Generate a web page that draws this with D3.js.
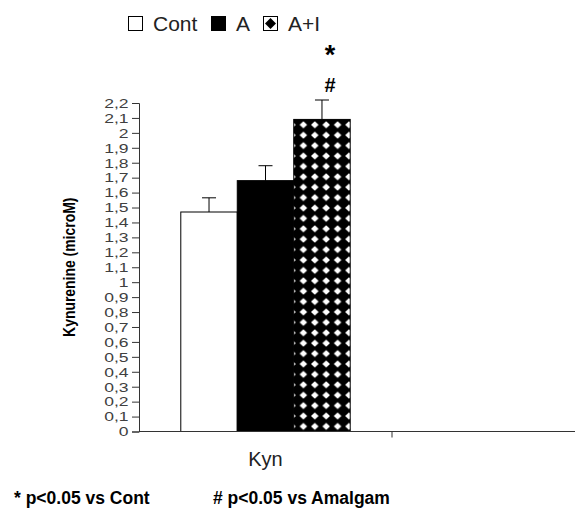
<!DOCTYPE html>
<html>
<head>
<meta charset="utf-8">
<script src="https://cdn.jsdelivr.net/npm/d3@7"></script>
<style>
  body { margin: 0; background: #fff; }
  svg { display: block; font-family: "Liberation Sans", Arial, sans-serif; }
</style>
</head>
<body>
<div id="chart"></div>
<script>
// data
var categories = ["Kyn", " "];
var groups = ["Cont", "A", "A+I"];
var values = [1.47, 1.68, 2.09];
var errors = [0.095, 0.10, 0.13];
var yTicks = d3.range(0, 23).map(function(i) { return i / 10; });
var marks = ["*", "#"];
var notes = ["* p<0.05 vs Cont", "# p<0.05 vs Amalgam"];

var width = 575, height = 515;
var margin = {top: 103, left: 139, bottom: 83};

var svg = d3.select("#chart").append("svg")
    .attr("width", width)
    .attr("height", height);

// checker of diamonds for the A+I bar
var defs = svg.append("defs");
var pat = defs.append("pattern")
    .attr("id", "diam")
    .attr("patternUnits", "userSpaceOnUse")
    .attr("width", 11.4)
    .attr("height", 10.4)
    .attr("x", 292)
    .attr("y", 0);
pat.append("rect").attr("width", 11.4).attr("height", 10.4).attr("fill", "#fff");
pat.append("path")
    .attr("d", "M5.7,-1.8 L13.2,5.2 L5.7,12.2 L-1.8,5.2 Z")
    .attr("fill", "#000");

var x = d3.scaleBand()
    .domain(categories)
    .range([margin.left, margin.left + 2 * 253]);

var xInner = d3.scaleBand()
    .domain(groups)
    .range([0, x.bandwidth()])
    .paddingOuter(0.74);

var y = d3.scaleLinear()
    .domain([0, 2.2])
    .range([height - margin.bottom - 0.5, margin.top]);

var fills = {"Cont": "#fff", "A": "#000", "A+I": "url(#diam)"};

// bars
var g = svg.append("g");
g.selectAll("rect.bar")
  .data(values)
  .enter().append("rect")
    .attr("class", "bar")
    .attr("x", function(d, i) { return x("Kyn") + xInner(groups[i]); })
    .attr("y", function(d) { return y(d); })
    .attr("width", xInner.bandwidth())
    .attr("height", function(d) { return y(0) - y(d); })
    .attr("fill", function(d, i) { return fills[groups[i]]; })
    .attr("stroke", "#000")
    .attr("stroke-width", 1);

// error bars, upper half only
var cx = function(i) { return x("Kyn") + xInner(groups[i]) + xInner.bandwidth() / 2; };
g.selectAll("line.err")
  .data(values)
  .enter().append("line")
    .attr("x1", function(d, i) { return cx(i); })
    .attr("x2", function(d, i) { return cx(i); })
    .attr("y1", function(d) { return y(d); })
    .attr("y2", function(d, i) { return y(d + errors[i]); })
    .attr("stroke", "#000");
g.selectAll("line.cap")
  .data(values)
  .enter().append("line")
    .attr("x1", function(d, i) { return cx(i) - 7; })
    .attr("x2", function(d, i) { return cx(i) + 7; })
    .attr("y1", function(d, i) { return y(d + errors[i]); })
    .attr("y2", function(d, i) { return y(d + errors[i]); })
    .attr("stroke", "#000");

// y axis
var yAxis = svg.append("g")
    .attr("transform", "translate(" + margin.left + ",0)")
    .call(d3.axisLeft(y)
      .tickValues(yTicks)
      .tickSize(7)
      .tickFormat(function(d) { return String(Math.round(d * 10) / 10).replace(".", ","); }));
yAxis.select(".domain").attr("stroke", "#333");
yAxis.selectAll(".tick line").attr("stroke", "#333");
// the tick labels in the picture are wide, so stretch them a little
yAxis.selectAll("text")
    .attr("fill", "#404040")
    .attr("x", -10.5 / 1.3)
    .attr("transform", "scale(1.3,1)")
    .style("font-size", "13.5px")
    .style("font-family", "Liberation Sans, Arial, sans-serif");

// x axis
svg.append("line")
    .attr("x1", margin.left).attr("x2", width)
    .attr("y1", y(0)).attr("y2", y(0))
    .attr("stroke", "#333");
svg.selectAll("line.xtick")
  .data(categories.slice(1))
  .enter().append("line")
    .attr("x1", function(d) { return x(d); })
    .attr("x2", function(d) { return x(d); })
    .attr("y1", y(0)).attr("y2", y(0) + 6)
    .attr("stroke", "#333");
svg.append("text")
    .attr("x", x("Kyn") + x.bandwidth() / 2)
    .attr("y", 466)
    .attr("text-anchor", "middle")
    .style("font-size", "20px")
    .attr("fill", "#222")
    .text(categories[0]);

// y title, squeezed to look like a narrow face
svg.append("text")
    .attr("transform", "translate(75," + (y(1.1)) + ") rotate(-90) scale(0.82,1)")
    .attr("text-anchor", "middle")
    .style("font-weight", "bold")
    .style("font-size", "17px")
    .text("Kynurenine (microM)");

// significance marks above A+I
svg.selectAll("text.mark")
  .data(marks)
  .enter().append("text")
    .attr("x", cx(2) + 8)
    .attr("y", function(d, i) { return i === 0 ? 64 : 92; })
    .attr("text-anchor", "middle")
    .style("font-weight", "bold")
    .style("font-size", function(d, i) { return i === 0 ? "27px" : "20px"; })
    .text(function(d) { return d; });

// legend
var legend = svg.append("g").attr("transform", "translate(128,16)");
var legX = [0, 83, 135];
var item = legend.selectAll("g")
  .data(groups)
  .enter().append("g")
    .attr("transform", function(d, i) { return "translate(" + legX[i] + ",0)"; });
item.append("rect")
    .attr("x", 0.5).attr("y", 0.5)
    .attr("width", 14).attr("height", 14)
    .attr("fill", function(d) { return d === "A+I" ? "#fff" : fills[d]; })
    .attr("stroke", "#000");
item.filter(function(d) { return d === "A+I"; }).append("path")
    .attr("d", "M7.5,2 L13,7.5 L7.5,13 L2,7.5 Z")
    .attr("fill", "#000");
item.append("text")
    .attr("x", 25).attr("y", 15)
    .style("font-size", "21px")
    .attr("fill", "#222")
    .text(function(d) { return d; });

// footnotes
svg.selectAll("text.note")
  .data(notes)
  .enter().append("text")
    .attr("x", function(d, i) { return i === 0 ? 14 : 213; })
    .attr("y", 504)
    .style("font-weight", "bold")
    .style("font-size", "17.5px")
    .text(function(d) { return d; });
</script>
</body>
</html>
